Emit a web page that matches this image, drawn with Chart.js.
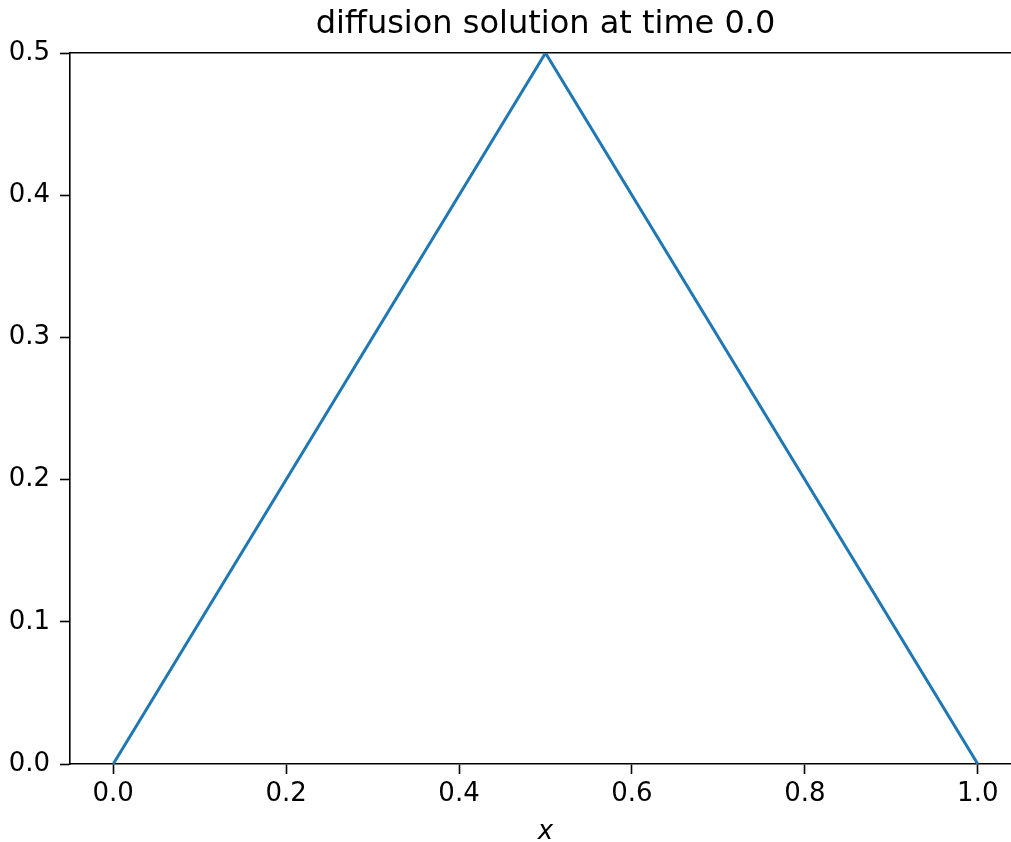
<!DOCTYPE html>
<html>
<head>
<meta charset="utf-8">
<script src="https://cdn.jsdelivr.net/npm/chart.js@4/dist/chart.umd.min.js"></script>
<style>
  html, body { margin: 0; padding: 0; background: #fff; overflow: hidden; width: 1011px; height: 842px; }
  #wrap { position: absolute; left: 0; top: 0; width: 1040px; height: 842px; }
</style>
</head>
<body>
<div id="wrap"><canvas id="c"></canvas></div>
<script>
const titleText = "diffusion solution at time 0.0";
const xValues = [0.0, 0.5, 1.0];
const uValues = [0.0, 0.5, 0.0];
const xTickValues = [0.0, 0.2, 0.4, 0.6, 0.8, 1.0];
const yTickValues = [0.0, 0.1, 0.2, 0.3, 0.4, 0.5];
const xLabel = "x";

const FONT = "'DejaVu Sans', sans-serif";

new Chart(document.getElementById('c'), {
  type: 'line',
  data: {
    datasets: [{
      data: xValues.map((x, i) => ({ x: x, y: uValues[i] })),
      borderColor: '#1f77b4',
      borderWidth: 3,
      pointRadius: 0,
      tension: 0,
      fill: false
    }]
  },
  options: {
    responsive: true,
    maintainAspectRatio: false,
    animation: false,
    devicePixelRatio: 1,
    layout: { padding: { left: 0, right: 19, top: 0, bottom: 0 } },
    plugins: {
      legend: { display: false },
      tooltip: { enabled: false },
      title: { display: false }
    },
    scales: {
      x: {
        type: 'linear',
        position: 'bottom',
        min: -0.05,
        max: 1.05,
        afterBuildTicks: s => { s.ticks = xTickValues.map(v => ({ value: v })); },
        afterFit: s => { s.height = 78; },
        ticks: {
          color: '#000',
          font: { family: FONT, size: 26 },
          padding: 5,
          maxRotation: 0,
          autoSkip: false,
          callback: v => Number(v).toFixed(1)
        },
        grid: { display: true, drawOnChartArea: false, drawTicks: true, tickLength: 10, tickWidth: 1.6, tickColor: '#000' },
        border: { display: true, color: '#000', width: 1.6 },
        title: {
          display: true,
          text: xLabel,
          color: '#000',
          font: { family: FONT, size: 26, style: 'italic' },
          padding: { top: 0, bottom: -6 }
        }
      },
      xTop: {
        type: 'linear',
        position: 'top',
        min: -0.05,
        max: 1.05,
        afterFit: s => { s.height = 53; },
        ticks: { display: false },
        grid: { display: false },
        border: { display: true, color: '#000', width: 1.6 },
        title: {
          display: true,
          text: titleText,
          color: '#000',
          font: { family: FONT, size: 32, weight: 'normal' },
          padding: { top: 5, bottom: 0 }
        }
      },
      y: {
        type: 'linear',
        position: 'left',
        min: 0,
        max: 0.5,
        afterBuildTicks: s => { s.ticks = yTickValues.map(v => ({ value: v })); },
        afterFit: s => { s.width = 70; },
        ticks: {
          color: '#000',
          font: { family: FONT, size: 26 },
          padding: 10,
          autoSkip: false,
          callback: v => Number(v).toFixed(1)
        },
        grid: { display: true, drawOnChartArea: false, drawTicks: true, tickLength: 10, tickWidth: 1.6, tickColor: '#000' },
        border: { display: true, color: '#000', width: 1.6 }
      }
    }
  }
});
</script>
</body>
</html>
